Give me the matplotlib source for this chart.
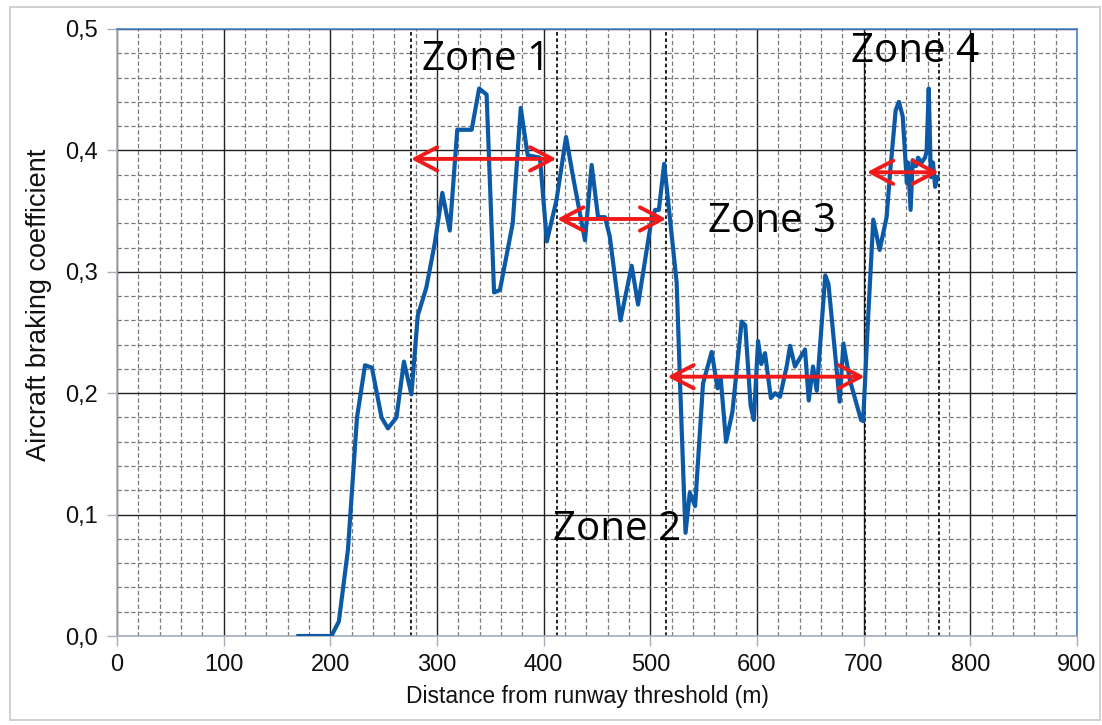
import matplotlib
matplotlib.use("Agg")
import matplotlib.pyplot as plt
from matplotlib.ticker import MultipleLocator, FixedLocator
from matplotlib.patches import Rectangle

# ---- data ----
distance_m = [170, 201, 208, 216.5, 225, 232.5, 239, 248, 254, 262, 269, 276,
              282, 290, 298, 305, 312, 319, 332.5, 339.5, 346.5, 353.5, 359, 371,
              378.5, 385, 396.5, 403, 412, 421, 427.6, 438.7, 445, 451, 457.5, 462,
              472, 482.5, 488.5, 500, 504.5, 508, 513, 518.5, 524.7, 528, 531, 533,
              537, 542, 549.4, 557.5, 563, 566, 571, 577, 585.6, 589, 594, 597,
              601, 604, 607.5, 613, 617, 621.6, 628, 631, 635.6, 641, 645, 648.5,
              652.5, 656, 664, 667, 677.5, 681, 687, 697.5, 699.5, 704, 709, 715,
              721.5, 725, 730, 733, 736.6, 740.5, 741.6, 744, 746, 749, 751, 754.4,
              757.5, 759, 761, 763, 765, 767, 769]
braking_coef = [0.0, 0.0, 0.012, 0.071, 0.18, 0.223, 0.221, 0.18, 0.171, 0.18, 0.226, 0.199,
                0.264, 0.287, 0.324, 0.365, 0.334, 0.417, 0.417, 0.451, 0.446, 0.283, 0.285, 0.340,
                0.435, 0.396, 0.394, 0.325, 0.359, 0.411, 0.378, 0.326, 0.388, 0.345, 0.345, 0.329,
                0.260, 0.305, 0.273, 0.337, 0.351, 0.351, 0.389, 0.343, 0.291, 0.205, 0.131, 0.085,
                0.118, 0.107, 0.208, 0.234, 0.204, 0.212, 0.160, 0.185, 0.259, 0.256, 0.190, 0.178,
                0.243, 0.224, 0.233, 0.196, 0.200, 0.197, 0.223, 0.239, 0.222, 0.230, 0.236, 0.194,
                0.222, 0.202, 0.297, 0.290, 0.193, 0.241, 0.211, 0.178, 0.177, 0.259, 0.343, 0.318,
                0.345, 0.384, 0.433, 0.440, 0.428, 0.373, 0.390, 0.351, 0.392, 0.387, 0.394, 0.390,
                0.394, 0.399, 0.451, 0.378, 0.390, 0.370, 0.378]

x_ticks = [0, 100, 200, 300, 400, 500, 600, 700, 800, 900]
y_ticks = [0.0, 0.1, 0.2, 0.3, 0.4, 0.5]
y_tick_labels = ["0,0", "0,1", "0,2", "0,3", "0,4", "0,5"]

zone_bounds = [275.5, 412.5, 515, 701, 770.5]
zone_names = ["Zone 1", "Zone 2", "Zone 3", "Zone 4"]
zone_label_x = [346, 469, 614.5, 748]
zone_label_y = [0.466, 0.079, 0.333, 0.473]
arrow_start = [275.5, 412.5, 516, 703]
arrow_end = [412, 515, 701, 770.5]
arrow_y = [0.393, 0.3435, 0.2136, 0.382]

# ---- figure ----
fig = plt.figure(figsize=(11.02, 7.25), dpi=100)
fig.patches.append(Rectangle((10 / 1102, 5 / 725), 1090 / 1102, 713 / 725,
                             transform=fig.transFigure, fill=False,
                             edgecolor="#c8c8c8", lw=1.2))
ax = fig.add_axes([117 / 1102, 1 - 636 / 725, 960 / 1102, 607 / 725])

ax.set_xlim(0, 900)
ax.set_ylim(0, 0.5)
ax.xaxis.set_major_locator(FixedLocator(x_ticks))
ax.yaxis.set_major_locator(FixedLocator(y_ticks))
ax.set_yticklabels(y_tick_labels)
ax.xaxis.set_minor_locator(MultipleLocator(20))
ax.yaxis.set_minor_locator(MultipleLocator(0.02))

ax.grid(which="minor", color="#7a7a7a", linestyle=(0, (3.5, 2)), lw=0.9, zorder=0)
ax.grid(which="major", color="#202020", linestyle="-", lw=1.0, zorder=0.5)
ax.set_axisbelow(True)

for xb in zone_bounds:
    ax.axvline(xb, color="#111111", linestyle=(0, (2, 1.5)), lw=1.3, zorder=1)

ax.plot(distance_m, braking_coef, color="#0c5aa6", lw=3.0, zorder=3,
        solid_joinstyle="round")

for x0, x1, yy in zip(arrow_start, arrow_end, arrow_y):
    ax.annotate("", xy=(x1, yy), xytext=(x0, yy),
                arrowprops=dict(arrowstyle="<->,head_length=0.8,head_width=0.42",
                                color="#f01a1a", lw=2.8, mutation_scale=20,
                                shrinkA=0, shrinkB=0), zorder=4)

for name, lx, ly in zip(zone_names, zone_label_x, zone_label_y):
    ax.text(lx, ly, name, ha="center", va="baseline", fontsize=29,
            family="Open Sans", color="black", zorder=5)

for side in ["left", "bottom"]:
    ax.spines[side].set_color("#a8b0bc")
    ax.spines[side].set_linewidth(1.2)
for side in ["top", "right"]:
    ax.spines[side].set_color("#4a86c8")
    ax.spines[side].set_linewidth(1.2)

ax.tick_params(which="minor", length=0)
ax.tick_params(which="major", length=7, width=1, color="#a8b0bc",
               labelsize=17, labelcolor="#111111")
ax.tick_params(axis="y", pad=7)
ax.tick_params(axis="x", pad=6)
for lab in ax.get_xticklabels() + ax.get_yticklabels():
    lab.set_family("Liberation Sans")

ax.set_xlabel("Distance from runway threshold (m)", fontsize=16.5,
              family="Liberation Sans", color="#111111")
ax.xaxis.set_label_coords(0.49, -0.08)
ax.set_ylabel("Aircraft braking coefficient", fontsize=19.5,
              family="Liberation Sans", color="#111111")
ax.yaxis.set_label_coords(-0.068, 0.545)

fig.savefig("out.png", dpi=100)
